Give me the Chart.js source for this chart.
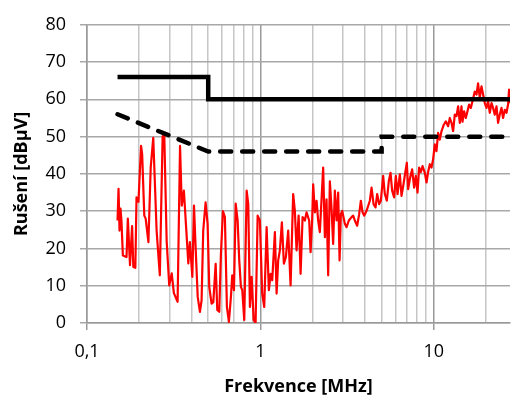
<!DOCTYPE html>
<html>
<head>
<meta charset="utf-8">
<script src="https://cdn.jsdelivr.net/npm/chart.js@4.4.1/dist/chart.umd.min.js"></script>
<style>
  html, body { margin: 0; padding: 0; background: #fff; overflow: hidden; }
  #wrap { width: 511px; height: 399px; }
</style>
</head>
<body>
<div id="wrap"><canvas id="c" width="511" height="399"></canvas></div>
<script>
// measured noise, MHz / dBµV
const freqMHz = [
  0.150, 0.152, 0.154, 0.156, 0.158, 0.161, 0.169, 0.172, 0.177, 0.182,
  0.185, 0.190, 0.193, 0.198, 0.205, 0.208, 0.214, 0.218, 0.226, 0.233,
  0.241, 0.252, 0.263, 0.273, 0.279, 0.288, 0.298, 0.308, 0.317, 0.333,
  0.344, 0.352, 0.362, 0.384, 0.392, 0.405, 0.414, 0.423, 0.435, 0.448,
  0.458, 0.468, 0.483, 0.496, 0.507, 0.523, 0.535, 0.552, 0.564, 0.579,
  0.592, 0.608, 0.624, 0.641, 0.658, 0.676, 0.688, 0.704, 0.720, 0.739,
  0.755, 0.772, 0.786, 0.807, 0.833, 0.851, 0.870, 0.890, 0.914, 0.938,
  0.964, 0.993, 1.024, 1.052, 1.086, 1.119, 1.145, 1.170, 1.212, 1.240,
  1.266, 1.295, 1.330, 1.366, 1.403, 1.446, 1.493, 1.545, 1.580, 1.616,
  1.661, 1.705, 1.751, 1.805, 1.846, 1.911, 1.947, 1.989, 2.015, 2.061,
  2.108, 2.153, 2.202, 2.252, 2.301, 2.354, 2.406, 2.459, 2.515, 2.572,
  2.627, 2.687, 2.749, 2.808, 2.861, 2.911, 2.962, 3.069, 3.139, 3.236,
  3.354, 3.427, 3.505, 3.614, 3.711, 3.796, 3.883, 3.966, 4.094, 4.277,
  4.375, 4.493, 4.613, 4.712, 4.838, 4.949, 5.103, 5.219, 5.359, 5.503,
  5.629, 5.750, 5.905, 6.039, 6.177, 6.368, 6.513, 6.689, 6.869, 6.989,
  7.111, 7.302, 7.498, 7.700, 7.876, 8.056, 8.229, 8.417, 8.609, 8.874,
  9.077, 9.271, 9.483, 9.699, 9.906, 10.13, 10.36, 10.59, 10.83, 11.08,
  11.42, 11.73, 12.09, 12.37, 12.65, 12.92, 13.21, 13.51, 13.81, 14.12,
  14.44, 14.63, 14.95, 15.29, 15.64, 15.97, 16.34, 16.71, 17.23, 17.63,
  18.00, 18.41, 18.83, 19.24, 19.68, 20.12, 20.56, 21.03, 21.51, 21.97,
  22.47, 22.98, 23.48, 24.02, 24.56, 25.09, 25.66, 26.24, 26.81, 27.17,
  27.68
];
const levelDb = [
  27.5, 36, 24.8, 30.7, 27.5, 18.1, 17.7, 28, 15.5, 26,
  15, 14.8, 33.7, 32.5, 47.5, 45.3, 28.8, 28, 21.7, 41.7,
  49.7, 24.8, 12.8, 50.1, 50.5, 22, 10.1, 13.3, 8, 5.7,
  47.5, 31.5, 35.5, 16, 21.7, 12.4, 31.5, 20.3, 7, 3,
  6.1, 24.8, 32.4, 26.6, 9.7, 5.2, 5.6, 15.9, 3.5, 3,
  18.6, 30, 28.4, 4.3, 0.3, 7, 12.8, 8.8, 32, 27.5,
  16.8, 9.7, 8.8, 0.8, 35.5, 31.9, 4.3, 12.4, 0.8, 0,
  28.8, 27.5, 7.9, 4.3, 25.7, 8.8, 13.2, 11.5, 24.4, 7.9,
  16.8, 19.5, 27, 15.9, 17.7, 24.8, 10.1, 34.6, 30.1, 19.5,
  28.8, 13.2, 28.4, 27.5, 29.7, 27.5, 19, 27.9, 37.2, 29.7,
  32.8, 27.5, 24.4, 33.2, 41.7, 23, 33.2, 12.8, 38, 30.6,
  21.2, 35.5, 27.5, 35, 16.8, 29.2, 30.1, 26.6, 25.7, 27.5,
  28.4, 28.8, 27.5, 26.1, 29.2, 32.8, 29.7, 28.8, 30.1, 32.8,
  36.3, 31.9, 31, 34.6, 31.9, 32.8, 39.5, 34.6, 32.8, 38.1,
  40.3, 35.5, 33.7, 39.5, 34.6, 39.9, 34.1, 37.3, 40.8, 43,
  35.9, 39, 41.2, 36.3, 39.5, 35, 41.7, 40.5, 42.1, 40.3,
  37.7, 40.5, 42.6, 41.7, 43.9, 47.9, 46.1, 51, 49.2, 51.5,
  53.2, 54.1, 52.8, 55, 53.7, 51.5, 55.9, 55.5, 58.1, 53.7,
  58.1, 54, 56.8, 55, 56.8, 58.6, 57.7, 59.5, 62.1, 61.3,
  64.3, 60.4, 63.5, 61.3, 59, 57.7, 59.5, 56.4, 59, 57.7,
  55.9, 58.1, 53.7, 56, 57.7, 55, 57.2, 56.4, 58.6, 62.6,
  59
];

// quasi-peak limit (solid) and average limit (dashed)
const qpFreq = [0.15, 0.5, 0.5, 30];
const qpDb = [66, 66, 60, 60];
const avgFreq = [0.15, 0.5, 5, 5, 30];
const avgDb = [56, 46, 46, 50, 50];

const xTicks = [0.1, 0.2, 0.3, 0.4, 0.5, 0.6, 0.7, 0.8, 0.9,
                1, 2, 3, 4, 5, 6, 7, 8, 9, 10, 20];
const xLabels = { 0.1: "0,1", 1: "1", 10: "10" };
const yMin = 0, yMax = 80, yStep = 10;

const pts = (xs, ys) => xs.map((x, i) => ({ x: x, y: ys[i] }));
const FONT = "'Open Sans', 'Noto Sans', sans-serif";
const isDecade = v => v === 0.1 || v === 1 || v === 10;

new Chart(document.getElementById("c"), {
  type: "line",
  data: {
    datasets: [
      { data: pts(qpFreq, qpDb), borderColor: "#000", borderWidth: 4.5,
        pointRadius: 0, tension: 0 },
      { data: pts(avgFreq, avgDb), borderColor: "#000", borderWidth: 4.5,
        borderDash: [11, 11], borderCapStyle: "round", pointRadius: 0, tension: 0 },
      { data: pts(freqMHz, levelDb), borderColor: "#ff0000", borderWidth: 2.2,
        borderJoinStyle: "round", pointRadius: 0, tension: 0 },
    ],
  },
  options: {
    responsive: false, animation: false, devicePixelRatio: 1,
    layout: { padding: { top: 23, right: 1, left: 0, bottom: 0 } },
    plugins: { legend: { display: false }, tooltip: { enabled: false } },
    scales: {
      x: {
        type: "logarithmic", min: 0.1, max: 27.5,
        afterBuildTicks: s => { s.ticks = xTicks.map(v => ({ value: v, major: isDecade(v) })); },
        afterFit: s => { s.height = 76; },
        grid: {
          color: c => isDecade(c.tick && c.tick.value) ? "#9a9a9a" : "#c6c6c6",
          lineWidth: 1.5, tickLength: 7,
          tickColor: c => isDecade(c.tick && c.tick.value) ? "#9a9a9a" : "rgba(0,0,0,0)",
        },
        border: { color: "#9a9a9a", width: 1.5 },
        ticks: {
          autoSkip: false, maxRotation: 0, padding: 11, color: "#000",
          font: { family: FONT, size: 18 },
          callback: v => xLabels[v] || "",
        },
        title: { display: true, text: "Frekvence [MHz]", color: "#000",
          font: { family: FONT, size: 18, weight: "bold" }, padding: { top: 0, bottom: 1 } },
      },
      y: {
        min: yMin, max: yMax,
        afterFit: s => { s.width = 87; },
        grid: { color: "#a8a8a8", lineWidth: 1.5, tickLength: 7 },
        border: { color: "#9a9a9a", width: 1.5 },
        ticks: { stepSize: yStep, padding: 14, color: "#000", font: { family: FONT, size: 18 } },
        title: { display: true, text: "Rušení [dBµV]", color: "#000",
          font: { family: FONT, size: 18, weight: "bold" }, padding: { top: 11, bottom: 0 } },
      },
    },
  },
});
</script>
</body>
</html>
